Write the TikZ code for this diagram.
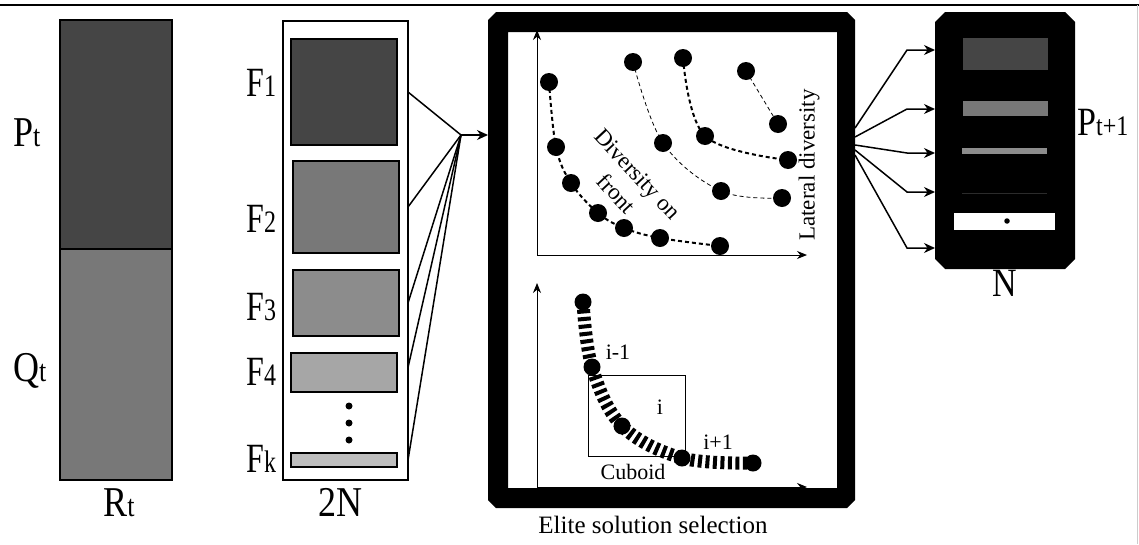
\documentclass[tikz,border=0pt]{standalone}
\usepackage{fontspec}
\setmainfont{Liberation Serif}
\usetikzlibrary{arrows.meta}
\newcommand{\bigsub}[4]{{\fontsize{#1}{#1}\selectfont #3}{\fontsize{#2}{#2}\selectfont #4}}
\begin{document}
\begin{tikzpicture}[x=1pt,y=-1pt,
  box/.style={draw, line width=1.5pt, inner sep=0pt, outer sep=0pt},
  inbox/.style={inner sep=0pt, outer sep=0pt},
  lab/.style={inner sep=0pt, anchor=base west},
  tall/.style={yscale=1.18},
  taller/.style={yscale=1.3},
  bdot/.style={circle, fill=black, inner sep=0pt, minimum size=18pt},
  sdot/.style={circle, fill=black, inner sep=0pt, minimum size=17pt},
  vdot/.style={circle, fill=black, inner sep=0pt, minimum size=7pt},
  fan/.style={line width=1.5pt},
  arr/.style={line width=1.5pt, -{Stealth[length=11pt,width=10pt]}},
  ax/.style={line width=1pt, -{Stealth[length=10pt,width=8pt]}},
  thickdash/.style={line width=2pt, dash pattern=on 4pt off 3pt},
  thindash/.style={line width=0.8pt, dash pattern=on 4pt off 3pt},
  hatch/.style={line width=13pt, dash pattern=on 4pt off 3.5pt},
  small/.style={font=\fontsize{22}{26}\selectfont, inner sep=0pt},
]
\useasboundingbox (0,0) rectangle (1139,544);
% frame lines
\draw[line width=1.5pt] (0,5) -- (1139,5);
\draw[line width=1pt, black!20] (1137,5) -- (1137,544);

% R_t bar
\node[box, fill=black!73, minimum width=112pt, minimum height=229pt] (pbar) at (116,134.5) {};
\node[box, fill=black!53, minimum width=112pt, minimum height=231pt] (qbar) at (116,364.5) {};
\node[lab, tall] (pt) at (13,146) {\bigsub{36}{26}{P}{t}};
\node[lab, tall] (qt) at (13,381) {\bigsub{36}{26}{Q}{t}};
\node[lab, tall, anchor=base] (rt) at (119,516) {\bigsub{36}{26}{R}{t}};

% 2N column
\node[box, fill=white, minimum width=125pt, minimum height=459pt] (twoN) at (345.5,250.5) {};
\node[box, fill=black!73, minimum width=106pt, minimum height=106pt] (fb1) at (344,92) {};
\node[box, fill=black!53, minimum width=106pt, minimum height=92pt] (fb2) at (346,207) {};
\node[box, fill=black!45, minimum width=106pt, minimum height=66pt] (fb3) at (346,303) {};
\node[box, fill=black!35, minimum width=106pt, minimum height=39pt] (fb4) at (344,372.5) {};
\node[box, fill=black!26, minimum width=106pt, minimum height=14pt] (fbk) at (344,460) {};
\node[vdot] (v1) at (349,406) {};
\node[vdot] (v2) at (349,423) {};
\node[vdot] (v3) at (349,440) {};
\node[lab, taller] (f1) at (246,96) {\bigsub{32}{24}{F}{1}};
\node[lab, taller] (f2) at (246,232) {\bigsub{32}{24}{F}{2}};
\node[lab, taller] (f3) at (246,320) {\bigsub{32}{24}{F}{3}};
\node[lab, taller] (f4) at (246,385) {\bigsub{32}{24}{F}{4}};
\node[lab, taller] (fk) at (246,472) {\bigsub{32}{24}{F}{k}};
\node[anchor=base, inner sep=0pt, tall] (twoNlab) at (340,516) {\fontsize{36}{36}\selectfont 2N};

% elite selection box
\node[inbox, minimum width=367pt, minimum height=496pt] (elite) at (671.5,260) {};
\fill[black, even odd rule]
  (488,20) -- (496,12) -- (847,12) -- (855,20) -- (855,500) -- (847,508) -- (496,508) -- (488,500) -- cycle
  (508,32) rectangle (837,488);
\node[anchor=base, inner sep=0pt] (elitelab) at (653,533) {\fontsize{25}{25}\selectfont Elite solution selection};

% fan into elite box
\coordinate (m1) at (461,135);
\draw[fan] (twoN.east |- fb1.center) -- (m1);
\draw[fan] (twoN.east |- fb2.center) -- (m1);
\draw[fan] (twoN.east |- fb3.center) -- (m1);
\draw[fan] ([yshift=5pt]twoN.east |- fb4.center) -- (m1);
\draw[fan] (twoN.east |- fbk.center) -- (m1);
\draw[arr] (m1) -- (m1 -| elite.west);

% upper plot
\coordinate (o1) at (537,255);
\coordinate (ya) at (537,30);
\coordinate (xa) at (807,255);
\draw[ax] (o1) -- (ya);
\draw[ax] (o1) -- (xa);
\draw[thickdash] plot[smooth, tension=0.6] coordinates {(549,82) (556,147) (571,183) (598,213) (624,228) (660,238) (720,246)};
\draw[thindash] plot[smooth, tension=0.6] coordinates {(633,62) (663,143) (721,191) (782,198)};
\draw[thickdash] plot[smooth, tension=0.6] coordinates {(683,58) (705,136) (788,160)};
\draw[thindash] (746,71) -- (778,124);
\node[bdot] (a1) at (549,82) {};
\node[bdot] (a2) at (556,147) {};
\node[bdot] (a3) at (571,183) {};
\node[bdot] (a4) at (598,213) {};
\node[bdot] (a5) at (624,228) {};
\node[bdot] (a6) at (660,238) {};
\node[bdot] (a7) at (720,246) {};
\node[bdot] (c1) at (633,62) {};
\node[bdot] (c2) at (663,143) {};
\node[bdot] (c3) at (721,191) {};
\node[bdot] (c4) at (782,198) {};
\node[bdot] (d1) at (683,58) {};
\node[bdot] (d2) at (705,136) {};
\node[bdot] (d3) at (788,160) {};
\node[bdot] (e1) at (746,71) {};
\node[bdot] (e2) at (778,124) {};
\node[small, rotate=-47, align=center, font=\fontsize{23}{29}\selectfont] (divfront) at (627,184) {Diversity on\\front};
\node[small, rotate=90, font=\fontsize{23}{26}\selectfont] (latdiv) at (809,165) {Lateral diversity};

% lower plot
\coordinate (o2) at (537,487);
\coordinate (yb) at (537,283);
\coordinate (xb) at (807,487);
\draw[ax] (o2) -- (yb);
\draw[ax] (o2) -- (xb);
\node[draw, line width=1pt, inner sep=0pt, minimum width=97pt, minimum height=81pt] (cub) at (636.5,415.5) {};
\draw[hatch] plot[smooth, tension=0.6] coordinates {(583,302) (592,367) (622,426) (682,458) (753,463)};
\node[sdot] (b1) at (583,302) {};
\node[sdot] (b2) at (592,367) {};
\node[sdot] (b3) at (622,426) {};
\node[sdot] (b4) at (682,458) {};
\node[sdot] (b5) at (753,463) {};
\node[small] (lim1) at (618,352) {i-1};
\node[small] (li) at (660,407) {i};
\node[small] (lip1) at (718,442) {i+1};
\node[small] (lcub) at (633,472) {Cuboid};

% next population box
\node[inbox, minimum width=140pt, minimum height=257pt] (nextgen) at (1005,140.5) {};
\fill[black] (935,22) -- (945,12) -- (1065,12) -- (1075,22) -- (1075,259) -- (1065,269) -- (945,269) -- (935,259) -- cycle;
\node[inbox, fill=black!73, minimum width=85pt, minimum height=32pt] (q1) at (1005.5,54) {};
\node[inbox, fill=black!53, minimum width=85pt, minimum height=15pt] (q2) at (1005.5,108.5) {};
\node[inbox, fill=black!45, minimum width=85pt, minimum height=6pt] (q3) at (1004.5,151) {};
\node[inbox, fill=black!83, minimum width=85pt, minimum height=1pt] (q4) at (1004.5,193) {};
\node[inbox, fill=white, minimum width=101pt, minimum height=17pt] (q5) at (1004.5,221.5) {};
\node[circle, fill=black, inner sep=0pt, minimum size=5.5pt] (q5d) at (1007,221) {};
\node[lab, tall] (ptp1) at (1077,135) {\bigsub{34}{24}{P}{t+1}};
\node[anchor=base, inner sep=0pt, tall] (nlab) at (1005,296) {\fontsize{34}{34}\selectfont N};

% fan out of elite box
\coordinate (s1) at (855,128);
\coordinate (s2) at (855,137);
\coordinate (s3) at (855,145);
\coordinate (s4) at (855,150);
\coordinate (s5) at (855,155);
\coordinate (k1) at (907,50);
\coordinate (k2) at (907,109);
\coordinate (k3) at (907,153);
\coordinate (k4) at (907,192);
\coordinate (k5) at (907,248);
\draw[arr] (s1) -- (k1) -- (k1 -| nextgen.west);
\draw[arr] (s2) -- (k2) -- (k2 -| nextgen.west);
\draw[arr] (s3) -- (k3) -- (k3 -| nextgen.west);
\draw[arr] (s4) -- (k4) -- (k4 -| nextgen.west);
\draw[arr] (s5) -- (k5) -- (k5 -| nextgen.west);
\end{tikzpicture}
\end{document}
